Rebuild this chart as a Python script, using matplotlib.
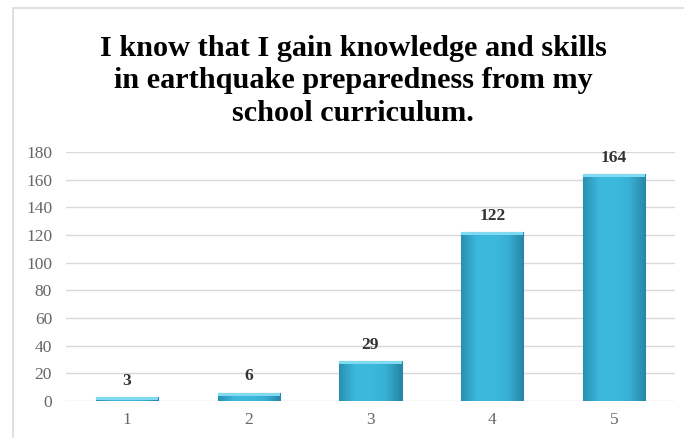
import numpy as np
import matplotlib.pyplot as plt
from matplotlib.patches import Rectangle
from matplotlib.colors import LinearSegmentedColormap

# --- datos ---
categorias = ["1", "2", "3", "4", "5"]
valores = [3, 6, 29, 122, 164]
y_ticks = [0, 20, 40, 60, 80, 100, 120, 140, 160, 180]
titulo = ("I know that I gain knowledge and skills\n"
          "in earthquake preparedness from my\n"
          "school curriculum.")

plt.rcParams['font.family'] = ['Liberation Serif', 'DejaVu Serif']

fig = plt.figure(figsize=(6.84, 4.38), dpi=100)

# marco gris del grafico
fig.patches.append(Rectangle((13 / 684, -0.01), 1.0, (438 - 8) / 438 + 0.01,
                             transform=fig.transFigure, fill=False,
                             edgecolor='#d9d9d9', lw=1.2, zorder=0))

ax = fig.add_axes([66 / 684, 37 / 438, (675 - 66) / 684, (401 - 152) / 438])

x = np.arange(len(categorias))
ancho = 0.51
barras = ax.bar(x, valores, width=ancho, color='#38b4d8', edgecolor='#2a8aa8',
                lw=0.8, zorder=2)

# degradado tipo bisel para cada barra
cmap = LinearSegmentedColormap.from_list(
    'bisel', ['#2a90b2', '#3bb8dc', '#3cbadd', '#37b0d4', '#2886a6'])
grad = np.linspace(0, 1, 64).reshape(1, -1)
for b in barras:
    x0, y0 = b.get_x(), b.get_y()
    w, h = b.get_width(), b.get_height()
    im = ax.imshow(grad, extent=[x0, x0 + w, y0, y0 + h], cmap=cmap,
                   aspect='auto', zorder=2.5, interpolation='bicubic')
    im.set_clip_path(b)
    # borde superior claro
    ax.add_patch(Rectangle((x0, y0 + h - min(h, 2.2)), w, min(h, 2.2),
                           color='#7fdaf2', zorder=3, lw=0))
    ax.text(x0 + w / 2, h + 6, str(int(h)), ha='center', va='bottom',
            fontsize=12.5, fontweight='bold', color='#333333')

ax.set_xlim(-0.5, len(categorias) - 0.5)
ax.set_ylim(0, 180)
ax.set_yticks(y_ticks)
ax.set_xticks(x)
ax.set_xticklabels(categorias)
ax.tick_params(axis='both', length=0, labelsize=12.5, colors='#666666')
ax.tick_params(axis='y', pad=10)
ax.tick_params(axis='x', pad=8)
ax.grid(axis='y', color='#d9d9d9', lw=1, zorder=0)
ax.set_axisbelow(True)
for s in ax.spines.values():
    s.set_visible(False)

fig.text(353 / 684, 1 - 81 / 438, titulo, ha='center', va='center',
         fontsize=21.8, fontweight='bold', linespacing=1.28)

fig.savefig('out.png', dpi=100)
